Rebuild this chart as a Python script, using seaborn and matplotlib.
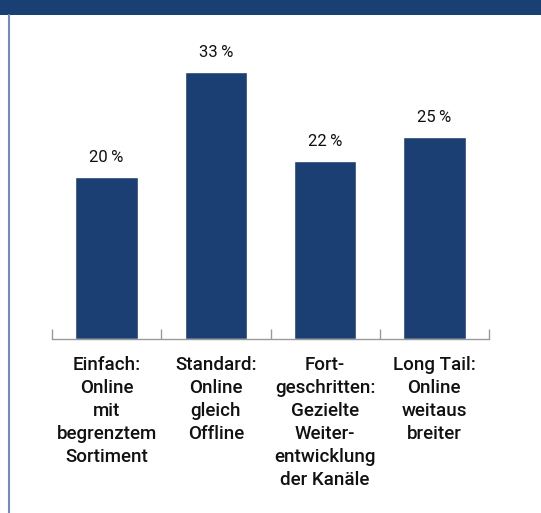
import matplotlib
matplotlib.use("Agg")
import matplotlib.pyplot as plt
import seaborn as sns
import pandas as pd
from matplotlib.patches import Rectangle
from matplotlib.lines import Line2D

categories = [
    "Einfach:\nOnline\nmit\nbegrenztem\nSortiment",
    "Standard:\nOnline\ngleich\nOffline",
    "Fort-\ngeschritten:\nGezielte\nWeiter-\nentwicklung\nder Kanäle",
    "Long Tail:\nOnline\nweitaus\nbreiter",
]
values = [20, 33, 22, 25]
value_labels = ["20\u2009%", "33\u2009%", "22\u2009%", "25\u2009%"]

sns.set_theme(style="white")
plt.rcParams["font.family"] = ["Roboto", "DejaVu Sans"]

W, H, DPI = 541, 513, 100
fig = plt.figure(figsize=(W / DPI, H / DPI), dpi=DPI)
fig.patch.set_facecolor("white")

bar_color = "#1b3f73"

# header band and left border
fig.add_artist(Rectangle((0, 1 - 15 / H), 1, 15 / H, transform=fig.transFigure,
                         facecolor="#1a3f72", edgecolor="none"))
fig.add_artist(Line2D([8.5 / W, 8.5 / W], [0, 1 - 15 / H], transform=fig.transFigure,
                      color="#6f8cbc", lw=1.5))

ax_left, ax_right = 52 / W, 489 / W
base_y = 339
ymax = 40
ppu = 8.09
ax_h = ymax * ppu
ax = fig.add_axes([ax_left, (H - base_y) / H, ax_right - ax_left, ax_h / H])

df = pd.DataFrame({"cat": categories, "val": values})
sns.barplot(data=df, x="cat", y="val", color=bar_color, saturation=1, width=0.57, ax=ax)

for i, (v, t) in enumerate(zip(values, value_labels)):
    ax.text(i, v + 1.5, t, ha="center", va="bottom", fontsize=12, color="#111111")

ax.set_xlim(-0.5, 3.5)
ax.set_ylim(0, ymax)
ax.set_xlabel("")
ax.set_ylabel("")
ax.set_yticks([])
for s in ["top", "right", "left"]:
    ax.spines[s].set_visible(False)
ax.spines["bottom"].set_color("#9a9a9a")
ax.spines["bottom"].set_linewidth(1.0)

ax.set_xticks(range(len(categories)))
ax.set_xticklabels(categories, fontsize=13.5, fontweight="medium", linespacing=1.36,
                   color="#111111", va="top")
ax.tick_params(axis="x", which="major", bottom=True, length=0, pad=12)
ax.set_xticks([-0.5, 0.5, 1.5, 2.5, 3.5], minor=True)
ax.tick_params(axis="x", which="minor", bottom=True, direction="in", length=7,
               color="#9a9a9a", width=1.0)

fig.savefig("out.png", dpi=DPI)
